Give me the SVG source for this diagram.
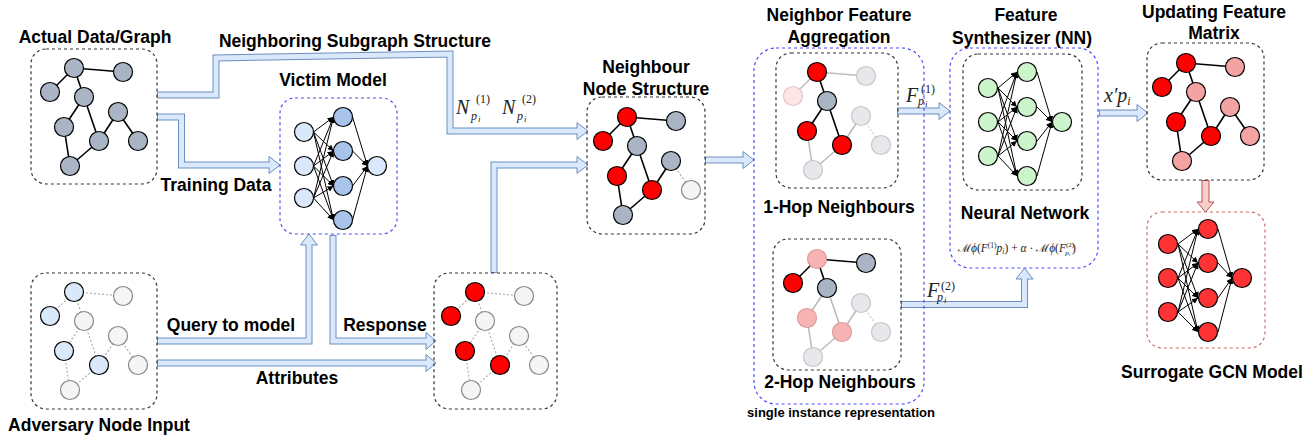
<svg xmlns="http://www.w3.org/2000/svg" width="1314" height="438" viewBox="0 0 1314 438">
<style>
.t{font-family:"Liberation Sans",Arial,sans-serif;font-weight:bold;font-size:17.5px;fill:#000;text-anchor:middle}
.s{font-family:"Liberation Sans",Arial,sans-serif;font-weight:bold;font-size:13px;fill:#000;text-anchor:middle}
.m{font-family:"Liberation Serif","DejaVu Serif",serif;font-style:italic;fill:#222}
.mr{font-family:"Liberation Serif","DejaVu Serif",serif;fill:#222}
.sc{font-family:"DejaVu Serif",serif;font-style:normal}
.box{fill:none;stroke:#333;stroke-width:1.2;stroke-dasharray:3 3}
.bbox{fill:none;stroke:#4d4dff;stroke-width:1.2;stroke-dasharray:3 3}
.rbox{fill:none;stroke:#c86e6e;stroke-width:1.2;stroke-dasharray:3 3}
.e{stroke:#000;stroke-width:1.6}
.ed{stroke:#b0b0b0;stroke-width:1.2;stroke-dasharray:2 2}
.eg{stroke:#bdbdbd;stroke-width:1.6}
.n circle{r:9.5px}
.ng{fill:#a9b4c4;stroke:#000;stroke-width:1.2}
.nr{fill:#ff0000;stroke:#000;stroke-width:1.2}
.nl{fill:#f5f5f5;stroke:#888;stroke-width:1.2}
.nb{fill:#dae8fc;stroke:#000;stroke-width:1.2}
.np{fill:#f4a3a3;stroke:#000;stroke-width:1.2}
.npl{fill:#f8b4b4;stroke:#e09a9a;stroke-width:1.2}
.nf{fill:#e6e8ec;stroke:#c4c6ca;stroke-width:1.2}
.nfp{fill:#fbe5e5;stroke:#e8c4c4;stroke-width:1.2}
.nh{fill:#a9c4eb;stroke:#000;stroke-width:1.2}
.ngr{fill:#ccf5cc;stroke:#000;stroke-width:1.2}
.nsr{fill:#ff3333;stroke:#000;stroke-width:1.2}
.w{stroke:#000;stroke-width:1;marker-end:url(#ah)}
.ao{fill:none;stroke:#6c8ebf;stroke-width:7}
.ai{fill:none;stroke:#dae8fc;stroke-width:5}
.ahd{fill:#dae8fc;stroke:#6c8ebf;stroke-width:1}
.ro{fill:none;stroke:#b85450;stroke-width:8}
.ri{fill:none;stroke:#f8cecc;stroke-width:6}
.rhd{fill:#f8cecc;stroke:#b85450;stroke-width:1}
</style>
<defs>
<marker id="ah" markerUnits="userSpaceOnUse" markerWidth="6" markerHeight="6" refX="6" refY="3" orient="auto"><path d="M0,0 L6,3 L0,6 z" fill="#000"/></marker>
</defs>

<!-- Connectors -->
<g id="connectors">
  <path class="ao" d="M157,95 H216 V58 L450,54 V131 H577"/>
  <polygon class="ahd" points="577,122.5 588,131 577,139.5"/>
  <path class="ai" d="M158,95 H216 V58 L450,54 V131 H578.5"/>

  <path class="ao" d="M157,117 H181.5 V165 H269"/>
  <polygon class="ahd" points="269,156.5 280,165 269,173.5"/>
  <path class="ai" d="M158,117 H181.5 V165 H270.5"/>

  <path class="ao" d="M157,341 H309 V245"/>
  <polygon class="ahd" points="300.5,245 309,234 317.5,245"/>
  <path class="ai" d="M158,341 H309 V243.5"/>

  <path class="ao" d="M333,235 V341 H426"/>
  <polygon class="ahd" points="426,332.5 436,341 426,349.5"/>
  <path class="ai" d="M333,236 V341 H427.5"/>

  <path class="ao" d="M157,363 H426"/>
  <polygon class="ahd" points="426,354.5 436,363 426,371.5"/>
  <path class="ai" d="M158,363 H427.5"/>

  <path class="ao" d="M494,273 V165 H577"/>
  <polygon class="ahd" points="577,156.5 588,165 577,173.5"/>
  <path class="ai" d="M494,272 V165 H578.5"/>

  <path class="ao" d="M705,160 H743"/>
  <polygon class="ahd" points="743,151.5 754,160 743,168.5"/>
  <path class="ai" d="M706,160 H744.5"/>

  <path class="ao" d="M897,111 H939"/>
  <polygon class="ahd" points="939,102.5 950,111 939,119.5"/>
  <path class="ai" d="M898,111 H940.5"/>

  <path class="ao" d="M901,304.5 H1024.5 V279"/>
  <polygon class="ahd" points="1016,279 1024.5,268 1033,279"/>
  <path class="ai" d="M902,304.5 H1024.5 V277.5"/>

  <path class="ao" d="M1099,113 H1137"/>
  <polygon class="ahd" points="1137,104.5 1148,113 1137,121.5"/>
  <path class="ai" d="M1100,113 H1138.5"/>

  <path class="ro" d="M1205.5,180 V202"/>
  <polygon class="rhd" points="1197,202 1205.5,212 1214,202"/>
  <path class="ri" d="M1205.5,181 V203.5"/>
</g>

<!-- Actual Data/Graph -->
<g id="actual-data-graph">
  <text class="t" x="95" y="43">Actual Data/Graph</text>
  <rect class="box" x="31" y="49" width="126" height="135" rx="15"/>
  <g class="n">
    <line class="e" x1="74" y1="68" x2="123" y2="72"/><line class="e" x1="74" y1="68" x2="50" y2="92"/><line class="e" x1="74" y1="68" x2="84" y2="97"/>
    <line class="e" x1="84" y1="97" x2="64" y2="127"/><line class="e" x1="84" y1="97" x2="99" y2="141"/><line class="e" x1="99" y1="141" x2="118" y2="112"/>
    <line class="e" x1="118" y1="112" x2="138" y2="141"/><line class="e" x1="64" y1="127" x2="70" y2="166"/><line class="e" x1="70" y1="166" x2="99" y2="141"/>
    <circle class="ng" cx="74" cy="68"/><circle class="ng" cx="123" cy="72"/><circle class="ng" cx="50" cy="92"/>
    <circle class="ng" cx="84" cy="97"/><circle class="ng" cx="118" cy="112"/><circle class="ng" cx="64" cy="127"/>
    <circle class="ng" cx="99" cy="141"/><circle class="ng" cx="138" cy="141"/><circle class="ng" cx="70" cy="166"/>
  </g>
</g>

<!-- Adversary Node Input -->
<g id="adversary-node-input">
  <rect class="box" x="31" y="273" width="126" height="136" rx="15"/>
  <text class="t" x="99" y="431">Adversary Node Input</text>
  <g class="n" transform="translate(0,224)">
    <line class="ed" x1="74" y1="68" x2="123" y2="72"/><line class="ed" x1="74" y1="68" x2="50" y2="92"/><line class="ed" x1="74" y1="68" x2="84" y2="97"/>
    <line class="ed" x1="84" y1="97" x2="64" y2="127"/><line class="ed" x1="84" y1="97" x2="99" y2="141"/><line class="ed" x1="99" y1="141" x2="118" y2="112"/>
    <line class="ed" x1="118" y1="112" x2="138" y2="141"/><line class="ed" x1="64" y1="127" x2="70" y2="166"/><line class="ed" x1="70" y1="166" x2="99" y2="141"/>
    <circle class="nb" cx="74" cy="68"/><circle class="nl" cx="123" cy="72"/><circle class="nb" cx="50" cy="92"/>
    <circle class="nl" cx="84" cy="97"/><circle class="nl" cx="118" cy="112"/><circle class="nb" cx="64" cy="127"/>
    <circle class="nb" cx="99" cy="141"/><circle class="nl" cx="138" cy="141"/><circle class="nl" cx="70" cy="166"/>
  </g>
</g>

<!-- Response graph -->
<g id="response-graph">
  <rect class="box" x="434" y="273" width="123" height="136" rx="15"/>
  <g class="n" transform="translate(401,224)">
    <line class="ed" x1="74" y1="68" x2="123" y2="72"/><line class="ed" x1="74" y1="68" x2="50" y2="92"/><line class="ed" x1="74" y1="68" x2="84" y2="97"/>
    <line class="ed" x1="84" y1="97" x2="64" y2="127"/><line class="ed" x1="84" y1="97" x2="99" y2="141"/><line class="ed" x1="99" y1="141" x2="118" y2="112"/>
    <line class="ed" x1="118" y1="112" x2="138" y2="141"/><line class="ed" x1="64" y1="127" x2="70" y2="166"/><line class="ed" x1="70" y1="166" x2="99" y2="141"/>
    <circle class="nr" cx="74" cy="68"/><circle class="nl" cx="123" cy="72"/><circle class="nr" cx="50" cy="92"/>
    <circle class="nl" cx="84" cy="97"/><circle class="nl" cx="118" cy="112"/><circle class="nr" cx="64" cy="127"/>
    <circle class="nr" cx="99" cy="141"/><circle class="nl" cx="138" cy="141"/><circle class="nl" cx="70" cy="166"/>
  </g>
</g>

<!-- Victim Model -->
<g id="victim-model">
  <text class="t" x="333" y="86">Victim Model</text>
  <rect class="bbox" x="280" y="98" width="117" height="136" rx="15"/>
  <line class="w" x1="313.5" y1="132" x2="333.5" y2="117"/><line class="w" x1="313.5" y1="132" x2="333.5" y2="151"/><line class="w" x1="313.5" y1="132" x2="333.5" y2="186"/><line class="w" x1="313.5" y1="132" x2="333.5" y2="220"/>
  <line class="w" x1="313.5" y1="166" x2="333.5" y2="117"/><line class="w" x1="313.5" y1="166" x2="333.5" y2="151"/><line class="w" x1="313.5" y1="166" x2="333.5" y2="186"/><line class="w" x1="313.5" y1="166" x2="333.5" y2="220"/>
  <line class="w" x1="313.5" y1="198" x2="333.5" y2="117"/><line class="w" x1="313.5" y1="198" x2="333.5" y2="151"/><line class="w" x1="313.5" y1="198" x2="333.5" y2="186"/><line class="w" x1="313.5" y1="198" x2="333.5" y2="220"/>
  <line class="w" x1="352.5" y1="117" x2="367.5" y2="166"/><line class="w" x1="352.5" y1="151" x2="367.5" y2="166"/><line class="w" x1="352.5" y1="186" x2="367.5" y2="166"/><line class="w" x1="352.5" y1="220" x2="367.5" y2="166"/>
  <g class="n">
    <circle class="nb" cx="304" cy="132"/><circle class="nb" cx="304" cy="166"/><circle class="nb" cx="304" cy="198"/>
    <circle class="nh" cx="343" cy="117"/><circle class="nh" cx="343" cy="151"/><circle class="nh" cx="343" cy="186"/><circle class="nh" cx="343" cy="220"/>
    <circle class="nb" cx="377" cy="166"/>
  </g>
</g>

<!-- Neighbour Node Structure -->
<g id="neighbour-node-structure">
  <text class="t" x="646" y="73">Neighbour</text>
  <text class="t" x="646" y="95">Node Structure</text>
  <rect class="box" x="587" y="97" width="118" height="137" rx="15"/>
  <g class="n" transform="translate(553,49)">
    <line class="e" x1="74" y1="68" x2="123" y2="72"/><line class="e" x1="74" y1="68" x2="50" y2="92"/><line class="e" x1="74" y1="68" x2="84" y2="97"/>
    <line class="e" x1="84" y1="97" x2="64" y2="127"/><line class="e" x1="84" y1="97" x2="99" y2="141"/><line class="e" x1="99" y1="141" x2="118" y2="112"/>
    <line class="ed" x1="118" y1="112" x2="138" y2="141"/><line class="e" x1="64" y1="127" x2="70" y2="166"/><line class="e" x1="70" y1="166" x2="99" y2="141"/>
    <circle class="nr" cx="74" cy="68"/><circle class="ng" cx="123" cy="72"/><circle class="nr" cx="50" cy="92"/>
    <circle class="ng" cx="84" cy="97"/><circle class="ng" cx="118" cy="112"/><circle class="nr" cx="64" cy="127"/>
    <circle class="nr" cx="99" cy="141"/><circle class="nl" cx="138" cy="141"/><circle class="ng" cx="70" cy="166"/>
  </g>
</g>

<!-- Neighbor Feature Aggregation -->
<g id="neighbor-feature-aggregation">
  <text class="t" x="839" y="21">Neighbor Feature</text>
  <text class="t" x="839" y="43">Aggregation</text>
  <rect class="bbox" x="754" y="48" width="170" height="356" rx="22"/>
  <text class="s" x="841" y="417">single instance representation</text>
</g>

<g id="one-hop-neighbours">
  <rect class="box" x="776" y="53" width="122" height="135" rx="15"/>
  <text class="t" x="839" y="213">1-Hop Neighbours</text>
  <g class="n" transform="translate(743,4)">
    <line class="eg" x1="74" y1="68" x2="123" y2="72"/><line class="eg" x1="74" y1="68" x2="50" y2="92"/><line class="e" x1="74" y1="68" x2="84" y2="97"/>
    <line class="e" x1="84" y1="97" x2="64" y2="127"/><line class="e" x1="84" y1="97" x2="99" y2="141"/><line class="eg" x1="99" y1="141" x2="118" y2="112"/>
    <line class="ed" x1="118" y1="112" x2="138" y2="141" style="stroke:#d0d0d0"/><line class="eg" x1="64" y1="127" x2="70" y2="166"/><line class="eg" x1="70" y1="166" x2="99" y2="141"/>
    <circle class="nr" cx="74" cy="68"/><circle class="nf" cx="123" cy="72"/><circle class="nfp" cx="50" cy="92"/>
    <circle class="ng" cx="84" cy="97"/><circle class="nf" cx="118" cy="112"/><circle class="nr" cx="64" cy="127"/>
    <circle class="nr" cx="99" cy="141"/><circle class="nf" cx="138" cy="141"/><circle class="nf" cx="70" cy="166"/>
  </g>
</g>

<g id="two-hop-neighbours">
  <rect class="box" x="773" y="239" width="128" height="131" rx="15"/>
  <text class="t" x="840" y="388">2-Hop Neighbours</text>
  <g class="n" transform="translate(743,191)">
    <line class="e" x1="74" y1="68" x2="123" y2="72"/><line class="e" x1="74" y1="68" x2="50" y2="92"/><line class="e" x1="74" y1="68" x2="84" y2="97"/>
    <line class="eg" x1="84" y1="97" x2="64" y2="127"/><line class="eg" x1="84" y1="97" x2="99" y2="141"/><line class="eg" x1="99" y1="141" x2="118" y2="112"/>
    <line class="ed" x1="118" y1="112" x2="138" y2="141" style="stroke:#d0d0d0"/><line class="eg" x1="64" y1="127" x2="70" y2="166"/><line class="eg" x1="70" y1="166" x2="99" y2="141"/>
    <circle class="npl" cx="74" cy="68"/><circle class="ng" cx="123" cy="72"/><circle class="nr" cx="50" cy="92"/>
    <circle class="ng" cx="84" cy="97"/><circle class="nf" cx="118" cy="112"/><circle class="npl" cx="64" cy="127"/>
    <circle class="npl" cx="99" cy="141"/><circle class="nf" cx="138" cy="141"/><circle class="nf" cx="70" cy="166"/>
  </g>
</g>

<!-- Feature Synthesizer -->
<g id="feature-synthesizer">
  <text class="t" x="1026" y="21">Feature</text>
  <text class="t" x="1022" y="44">Synthesizer (NN)</text>
  <rect class="bbox" x="950" y="48" width="148" height="220" rx="20"/>
  <rect class="box" x="963" y="54" width="119" height="136" rx="15"/>
  <line class="w" x1="998" y1="88" x2="1017" y2="72"/><line class="w" x1="998" y1="88" x2="1017" y2="107"/><line class="w" x1="998" y1="88" x2="1017" y2="141"/><line class="w" x1="998" y1="88" x2="1017" y2="176"/>
  <line class="w" x1="998" y1="122" x2="1017" y2="72"/><line class="w" x1="998" y1="122" x2="1017" y2="107"/><line class="w" x1="998" y1="122" x2="1017" y2="141"/><line class="w" x1="998" y1="122" x2="1017" y2="176"/>
  <line class="w" x1="998" y1="156" x2="1017" y2="72"/><line class="w" x1="998" y1="156" x2="1017" y2="107"/><line class="w" x1="998" y1="156" x2="1017" y2="141"/><line class="w" x1="998" y1="156" x2="1017" y2="176"/>
  <line class="w" x1="1037" y1="72" x2="1052" y2="122"/><line class="w" x1="1037" y1="107" x2="1052" y2="122"/><line class="w" x1="1037" y1="141" x2="1052" y2="122"/><line class="w" x1="1037" y1="176" x2="1052" y2="122"/>
  <g class="n">
    <circle class="ngr" cx="988" cy="88"/><circle class="ngr" cx="988" cy="122"/><circle class="ngr" cx="988" cy="156"/>
    <circle class="ngr" cx="1027" cy="72"/><circle class="ngr" cx="1027" cy="107"/><circle class="ngr" cx="1027" cy="141"/><circle class="ngr" cx="1027" cy="176"/>
    <circle class="ngr" cx="1062" cy="122"/>
  </g>
  <text class="t" x="1025" y="219">Neural Network</text>
  <text class="mr" x="958" y="252" font-size="11.5"><tspan class="sc">ℳ</tspan><tspan font-style="italic">ϕ</tspan>(<tspan font-style="italic">F</tspan><tspan font-size="7.5" dy="-4">(1)</tspan><tspan font-style="italic" dy="4">p</tspan><tspan font-size="7.5" font-style="italic" dy="2">i</tspan><tspan dy="-2">) + </tspan><tspan font-style="italic">α</tspan> · <tspan class="sc">ℳ</tspan><tspan font-style="italic">ϕ</tspan>(<tspan font-style="italic">F</tspan><tspan font-size="7" dy="-5">(2)</tspan><tspan font-size="7" font-style="italic" dx="-9" dy="8">p</tspan><tspan font-size="5" font-style="italic" dy="1">i</tspan><tspan dx="2" dy="-4">)</tspan></text>
</g>

<!-- Updating Feature Matrix -->
<g id="updating-feature-matrix">
  <text class="t" x="1214" y="18">Updating Feature</text>
  <text class="t" x="1214" y="39">Matrix</text>
  <rect class="box" x="1147" y="43" width="117" height="137" rx="15"/>
  <g class="n" transform="translate(1112,-5)">
    <line class="e" x1="74" y1="68" x2="123" y2="72"/><line class="e" x1="74" y1="68" x2="50" y2="92"/><line class="e" x1="74" y1="68" x2="84" y2="97"/>
    <line class="e" x1="84" y1="97" x2="64" y2="127"/><line class="e" x1="84" y1="97" x2="99" y2="141"/><line class="e" x1="99" y1="141" x2="118" y2="112"/>
    <line class="e" x1="118" y1="112" x2="138" y2="141"/><line class="e" x1="64" y1="127" x2="70" y2="166"/><line class="e" x1="70" y1="166" x2="99" y2="141"/>
    <circle class="nr" cx="74" cy="68"/><circle class="np" cx="123" cy="72"/><circle class="nr" cx="50" cy="92"/>
    <circle class="np" cx="84" cy="97"/><circle class="np" cx="118" cy="112"/><circle class="nr" cx="64" cy="127"/>
    <circle class="nr" cx="99" cy="141"/><circle class="np" cx="138" cy="141"/><circle class="np" cx="70" cy="166"/>
  </g>
</g>

<!-- Surrogate GCN Model -->
<g id="surrogate-gcn-model">
  <rect class="rbox" x="1147" y="212" width="118" height="136" rx="15"/>
  <line class="w" x1="1178" y1="244" x2="1198" y2="229"/><line class="w" x1="1178" y1="244" x2="1198" y2="263"/><line class="w" x1="1178" y1="244" x2="1198" y2="298"/><line class="w" x1="1178" y1="244" x2="1198" y2="332"/>
  <line class="w" x1="1178" y1="278" x2="1198" y2="229"/><line class="w" x1="1178" y1="278" x2="1198" y2="263"/><line class="w" x1="1178" y1="278" x2="1198" y2="298"/><line class="w" x1="1178" y1="278" x2="1198" y2="332"/>
  <line class="w" x1="1178" y1="312" x2="1198" y2="229"/><line class="w" x1="1178" y1="312" x2="1198" y2="263"/><line class="w" x1="1178" y1="312" x2="1198" y2="298"/><line class="w" x1="1178" y1="312" x2="1198" y2="332"/>
  <line class="w" x1="1218" y1="229" x2="1232" y2="278"/><line class="w" x1="1218" y1="263" x2="1232" y2="278"/><line class="w" x1="1218" y1="298" x2="1232" y2="278"/><line class="w" x1="1218" y1="332" x2="1232" y2="278"/>
  <g class="n">
    <circle class="nsr" cx="1168" cy="244"/><circle class="nsr" cx="1168" cy="278"/><circle class="nsr" cx="1168" cy="312"/>
    <circle class="nsr" cx="1208" cy="229"/><circle class="nsr" cx="1208" cy="263"/><circle class="nsr" cx="1208" cy="298"/><circle class="nsr" cx="1208" cy="332"/>
    <circle class="nsr" cx="1242" cy="278"/>
  </g>
  <text class="t" x="1212" y="378">Surrogate GCN Model</text>
</g>

<!-- Labels -->
<g id="labels">
  <text class="t" x="355" y="47">Neighboring Subgraph Structure</text>
  <text class="t" x="216" y="191">Training Data</text>
  <text class="t" x="231" y="331">Query to model</text>
  <text class="t" x="385" y="331">Response</text>
  <text class="t" x="297" y="384">Attributes</text>
  <text class="m" x="456" y="114" font-size="20">N</text><text class="mr" x="476" y="103" font-size="12">(1)</text><text class="m" x="471" y="120" font-size="12">p</text><text class="m" x="478" y="122" font-size="9">i</text>
  <text class="m" x="502" y="114" font-size="20">N</text><text class="mr" x="522" y="103" font-size="12">(2)</text><text class="m" x="517" y="120" font-size="12">p</text><text class="m" x="524" y="122" font-size="9">i</text>
  <text class="m" x="906" y="102" font-size="20">F</text><text class="mr" x="921" y="93" font-size="12">(1)</text><text class="m" x="918" y="105" font-size="12">p</text><text class="m" x="925" y="107" font-size="9">i</text>
  <text class="m" x="927" y="297" font-size="20">F</text><text class="mr" x="941" y="290" font-size="12">(2)</text><text class="m" x="937" y="301" font-size="12">p</text><text class="m" x="944" y="303" font-size="9">i</text>
  <text class="m" x="1104" y="102" font-size="20">x′p<tspan font-size="12" dy="3">i</tspan></text>
</g>
</svg>
